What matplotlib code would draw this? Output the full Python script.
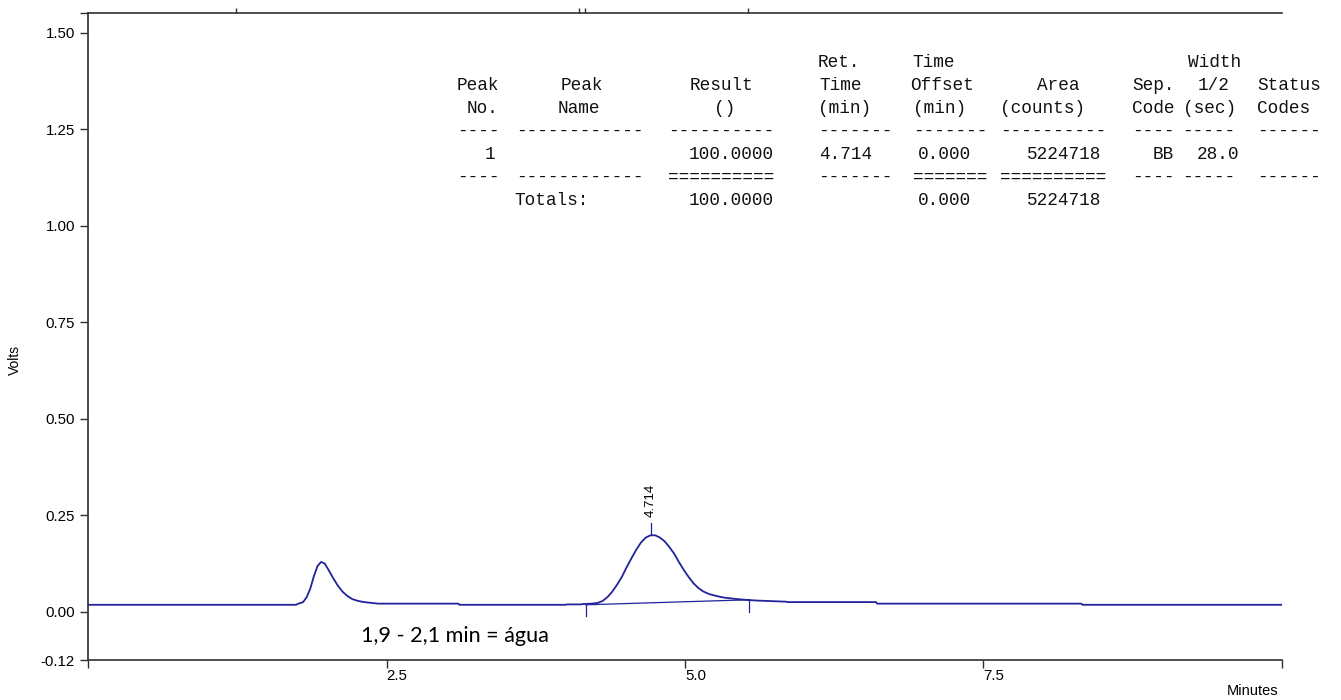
import matplotlib
matplotlib.use("Agg")
import matplotlib.pyplot as plt

W, H = 1341, 700

# chromatogram trace (minutes, volts)
time_min = [0.00, 1.74, 1.76, 1.80, 1.83, 1.86, 1.89, 1.92, 1.95, 1.98, 2.01,
            2.05, 2.09, 2.13, 2.17, 2.21, 2.26, 2.31, 2.37, 2.43, 3.10, 3.11,
            4.00, 4.01, 4.13, 4.14, 4.22, 4.27, 4.31, 4.35, 4.39, 4.43, 4.47,
            4.51, 4.55, 4.59, 4.63, 4.67, 4.71, 4.75, 4.79, 4.83, 4.87, 4.91,
            4.95, 4.99, 5.03, 5.07, 5.11, 5.15, 5.20, 5.26, 5.32, 5.40, 5.50,
            5.60, 5.85, 5.86, 6.60, 6.61, 8.32, 8.33, 10.00]
volts = [0.018, 0.018, 0.021, 0.025, 0.038, 0.060, 0.092, 0.118, 0.129, 0.125, 0.110,
         0.088, 0.068, 0.052, 0.041, 0.033, 0.028, 0.025, 0.023, 0.021, 0.021, 0.018,
         0.018, 0.019, 0.019, 0.020, 0.021, 0.023, 0.028, 0.038, 0.052, 0.070, 0.090,
         0.115, 0.138, 0.160, 0.179, 0.192, 0.198, 0.198, 0.192, 0.182, 0.167, 0.150,
         0.128, 0.108, 0.090, 0.074, 0.062, 0.053, 0.046, 0.041, 0.037, 0.034, 0.031,
         0.029, 0.026, 0.025, 0.025, 0.021, 0.021, 0.018, 0.018]

peak_time = 4.714
peak_label = "4.714"
peak_top = 0.199
baseline_start = (4.17, 0.018)
baseline_end = (5.54, 0.031)
event_times = [1.234, 4.113, 4.161, 5.53]

y_ticks = [1.551, 1.50, 1.25, 1.00, 0.75, 0.50, 0.25, 0.00, -0.125]
y_labels = ["", "1.50", "1.25", "1.00", "0.75", "0.50", "0.25", "0.00", "-0.12"]
x_ticks = [0, 2.5, 5.0, 7.5, 10.0]
x_labels = ["", "2.5", "5.0", "7.5", ""]

note = "1,9 - 2,1 min = água"

# report table, one list of strings per printed row
table_rows = [
    ["Ret.", "Time", "Width"],
    ["Peak", "Peak", "Result", "Time", "Offset", "Area", "Sep.", "1/2", "Status"],
    ["No.", "Name", "()", "(min)", "(min)", "(counts)", "Code", "(sec)", "Codes"],
    ["----", "------------", "----------", "-------", "-------", "----------", "----", "-----", "------"],
    ["1", "100.0000", "4.714", "0.000", "5224718", "BB", "28.0"],
    ["----", "------------", "==========", "-------", "=======", "==========", "----", "-----", "------"],
    ["Totals:", "100.0000", "0.000", "5224718"],
]
# layout: left pixel of each cell and baseline pixel of each row
table_x = [
    [818, 912, 1188],
    [457, 561, 690, 819, 910, 1037, 1132, 1198, 1257],
    [467, 558, 714, 818, 913, 1000, 1132, 1183, 1257],
    [457, 516, 668, 818, 913, 1000, 1132, 1182, 1257],
    [485, 689, 819, 918, 1027, 1153, 1197],
    [457, 516, 668, 818, 913, 1000, 1132, 1182, 1257],
    [514, 689, 918, 1027],
]
table_base = [67, 90, 113, 136, 159, 182, 205]

line_col = "#22229a"
axis_col = "#303030"

fig = plt.figure(figsize=(W / 100, H / 100), dpi=100)
ax = fig.add_axes([88.3 / W, 1 - 660 / H, (1281.8 - 88.3) / W, (660 - 13) / H])

ax.plot(time_min, volts, color=line_col, lw=1.3)
ax.plot([baseline_start[0], baseline_end[0]], [baseline_start[1], baseline_end[1]],
        color=line_col, lw=0.9)
ax.plot([baseline_start[0]] * 2, [baseline_start[1], -0.01], color=line_col, lw=0.9)
ax.plot([baseline_end[0]] * 2, [baseline_end[1], 0.0], color=line_col, lw=0.9)
ax.plot([peak_time] * 2, [peak_top, peak_top + 0.031], color=line_col, lw=0.9)
ax.text(peak_time, peak_top + 0.046, peak_label, rotation=90, ha="center", va="bottom",
        fontsize=9.5, family="Liberation Sans")

ax.vlines(event_times, 1, 1 + 5 / 647, transform=ax.get_xaxis_transform(),
          clip_on=False, color=axis_col, lw=1)

ax.text(2.285, -0.078, note, fontsize=15.6, family="Lato", va="baseline", ha="left")

ax.set_xlim(0, 10)
ax.set_ylim(-0.125, 1.551)
ax.set_yticks(y_ticks)
ax.set_yticklabels(y_labels, fontsize=10.8, family="Liberation Sans")
ax.set_xticks(x_ticks)
ax.set_xticklabels(x_labels, fontsize=10.8, family="Liberation Sans", ha="left")
ax.tick_params(axis="both", direction="out", length=6, width=1, color=axis_col)
ax.tick_params(axis="x", pad=0.5)
ax.spines["right"].set_visible(False)
for s in ["left", "bottom", "top"]:
    ax.spines[s].set_color(axis_col)
    ax.spines[s].set_linewidth(1.2)

fig.text(15 / W, 1 - 360 / H, "Volts", rotation=90, ha="center", va="center",
         fontsize=10, family="Liberation Sans")
fig.text(1278 / W, 1 - 691 / H, "Minutes", ha="right", va="center",
         fontsize=10.5, family="Liberation Sans")

for row, xs, yb in zip(table_rows, table_x, table_base):
    for s, x in zip(row, xs):
        fig.text(x / W, 1 - yb / H, s, ha="left", va="baseline",
                 fontsize=12.8, family="Liberation Mono", color="#111111")

fig.savefig("out.png", dpi=100)
